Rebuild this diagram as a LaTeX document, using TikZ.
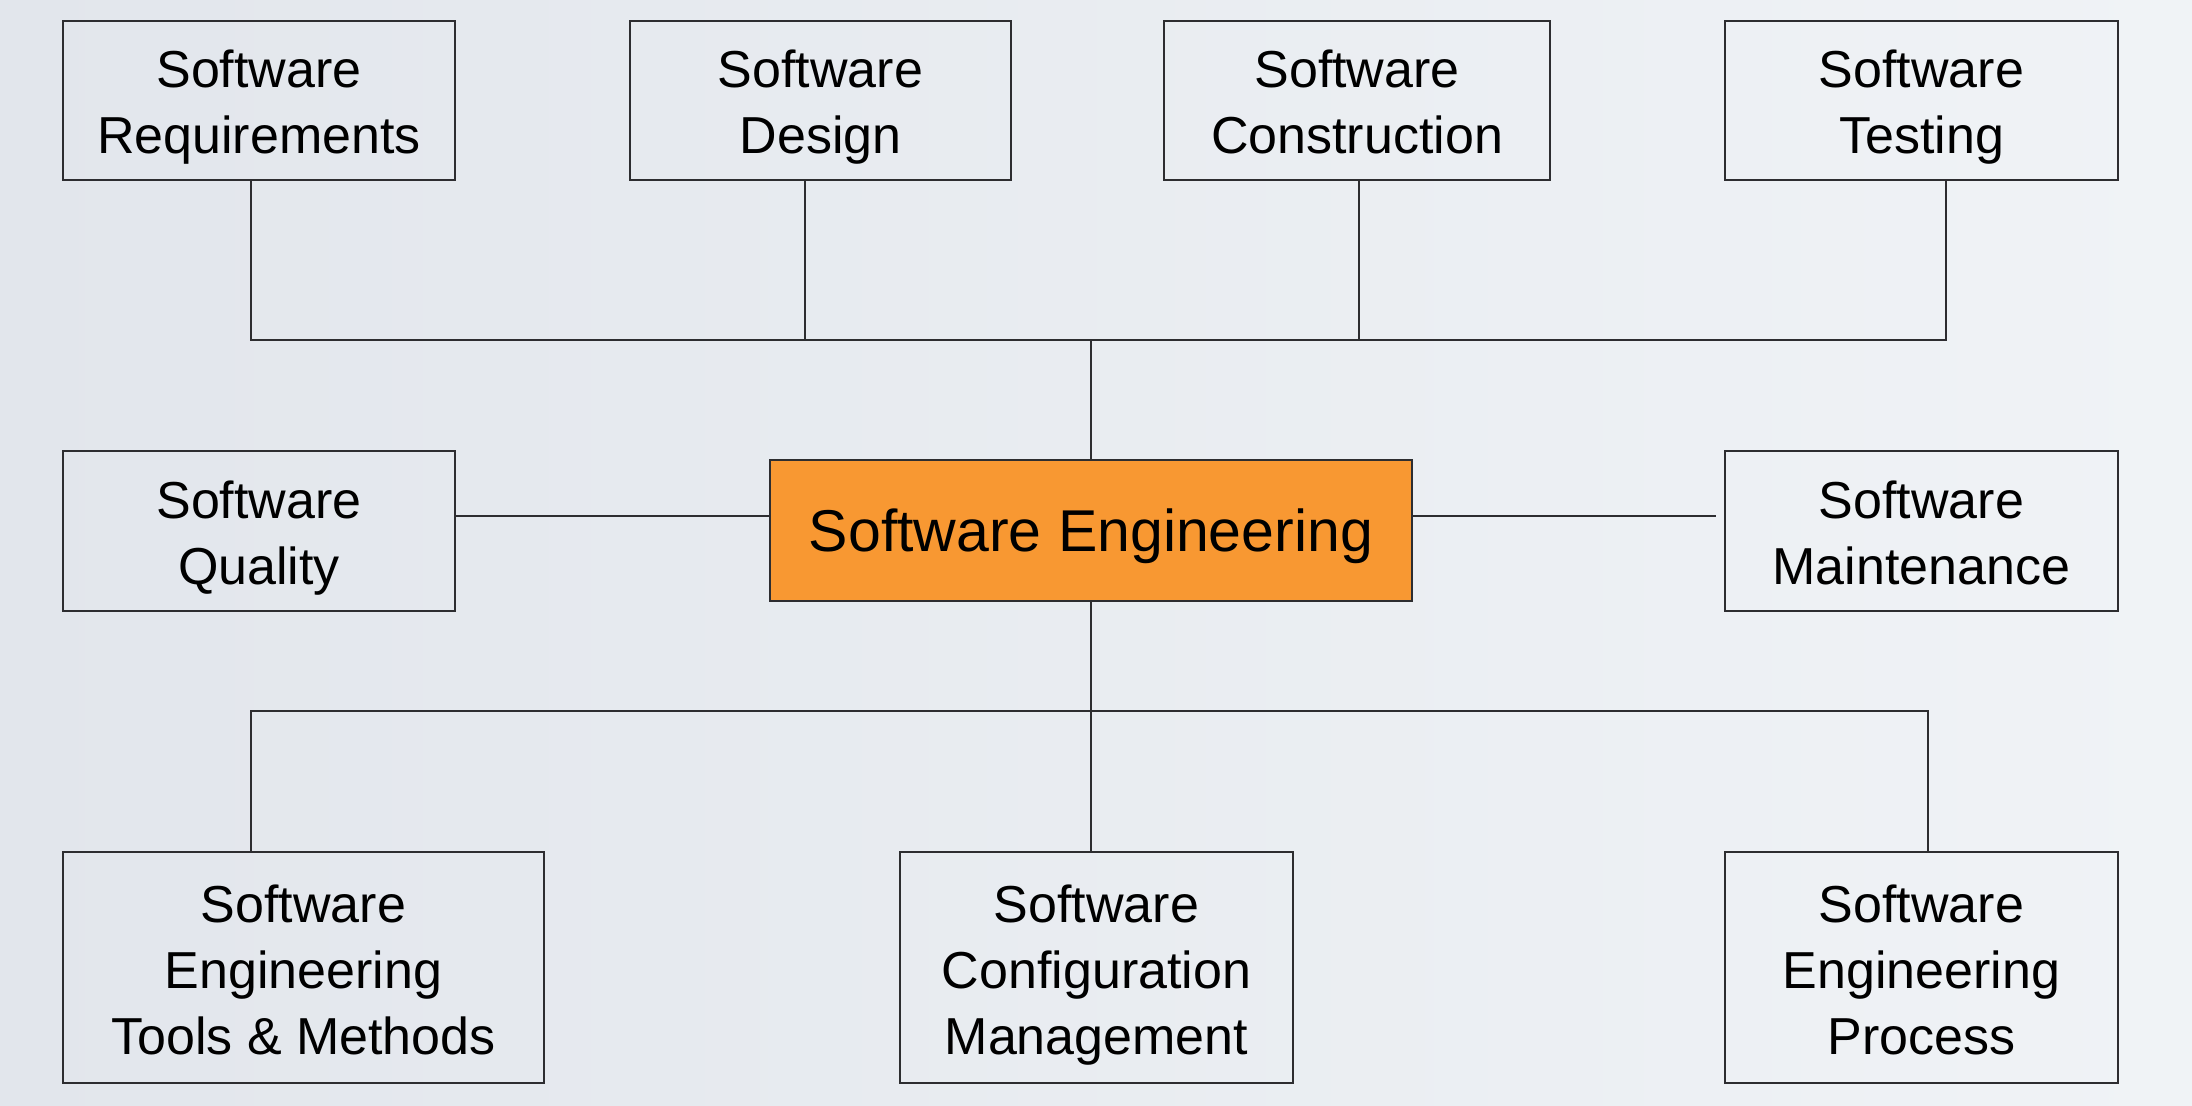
\documentclass[tikz,border=0pt]{standalone}
\usepackage{fontspec}
\setmainfont{Liberation Sans}
\definecolor{bgA}{RGB}{226,230,236}
\definecolor{bgB}{RGB}{240,243,246}
\definecolor{boxline}{RGB}{45,45,48}
\definecolor{engorange}{RGB}{248,152,50}
\newcommand{\kst}{\rule[-5.5pt]{0pt}{31.5pt}}
\newcommand{\ks}{\rule[-5.5pt]{0pt}{27.5pt}}
\newcommand{\kse}{\rule[-6.5pt]{0pt}{34pt}}
\begin{document}
\begin{tikzpicture}[x=0.5pt,y=-0.5pt,
  kabox/.style={draw=boxline, line width=1.3pt, align=center, inner sep=0pt,
    font=\fontsize{26}{33}\selectfont, text=black},
  engbox/.style={kabox, fill=engorange, font=\fontsize{29.5}{35}\selectfont},
  link/.style={draw=boxline, line width=1.2pt}]
\shade[left color=bgA, right color=bgB] (0,0) rectangle (2192,1106);
\useasboundingbox (0,0) rectangle (2192,1106);
% top row
\node[kabox, minimum width=196pt, minimum height=79.5pt] (req) at (259,100.5) {\kst Software\\\ks Requirements};
\node[kabox, minimum width=190.5pt, minimum height=79.5pt] (des) at (820.5,100.5) {\kst Software\\\ks Design};
\node[kabox, minimum width=193pt, minimum height=79.5pt] (con) at (1357,100.5) {\kst Software\\\ks Construction};
\node[kabox, minimum width=196.5pt, minimum height=79.5pt] (tst) at (1921.5,100.5) {\kst Software\\\ks Testing};
% middle row
\node[kabox, minimum width=196pt, minimum height=80pt] (qua) at (259,531) {\kst Software\\\ks Quality};
\node[engbox, minimum width=321pt, minimum height=70.5pt] (eng) at (1091,530.5) {\kse Software Engineering};
\node[kabox, minimum width=196.5pt, minimum height=80pt] (mnt) at (1921.5,531) {\kst Software\\\ks Maintenance};
% bottom row
\node[kabox, minimum width=240.5pt, minimum height=115.5pt] (tools) at (303.5,967.5) {\kst Software\\\ks Engineering\\\ks Tools \& Methods};
\node[kabox, minimum width=196.5pt, minimum height=115.5pt] (cfg) at (1096.5,967.5) {\kst Software\\\ks Configuration\\\ks Management};
\node[kabox, minimum width=196.5pt, minimum height=115.5pt] (proc) at (1921.5,967.5) {\kst Software\\\ks Engineering\\\ks Process};
% buses
\coordinate (topbus) at (1091,340);
\coordinate (botbus) at (1091,711);
% top connectors
\draw[link] ([xshift=-4pt]req.south) |- (topbus) -| ([xshift=12.25pt]tst.south);
\draw[link] ([xshift=-7.75pt]des.south) -- ([xshift=-7.75pt]des.south |- topbus);
\draw[link] ([xshift=1pt]con.south) -- ([xshift=1pt]con.south |- topbus);
\draw[link] (topbus) -- (eng.north);
% side connectors
\draw[link] ([yshift=7.25pt]eng.west) -- ([yshift=7.25pt]eng.west -| qua.east);
\draw[link, shorten >=4pt] ([yshift=7.25pt]eng.east) -- ([yshift=7.25pt]eng.east -| mnt.west);
% bottom connectors
\draw[link] (eng.south) -- (eng.south |- cfg.north);
\draw[link] ([xshift=-26.25pt]tools.north) |- (botbus) -| ([xshift=3.25pt]proc.north);
\end{tikzpicture}
\end{document}
